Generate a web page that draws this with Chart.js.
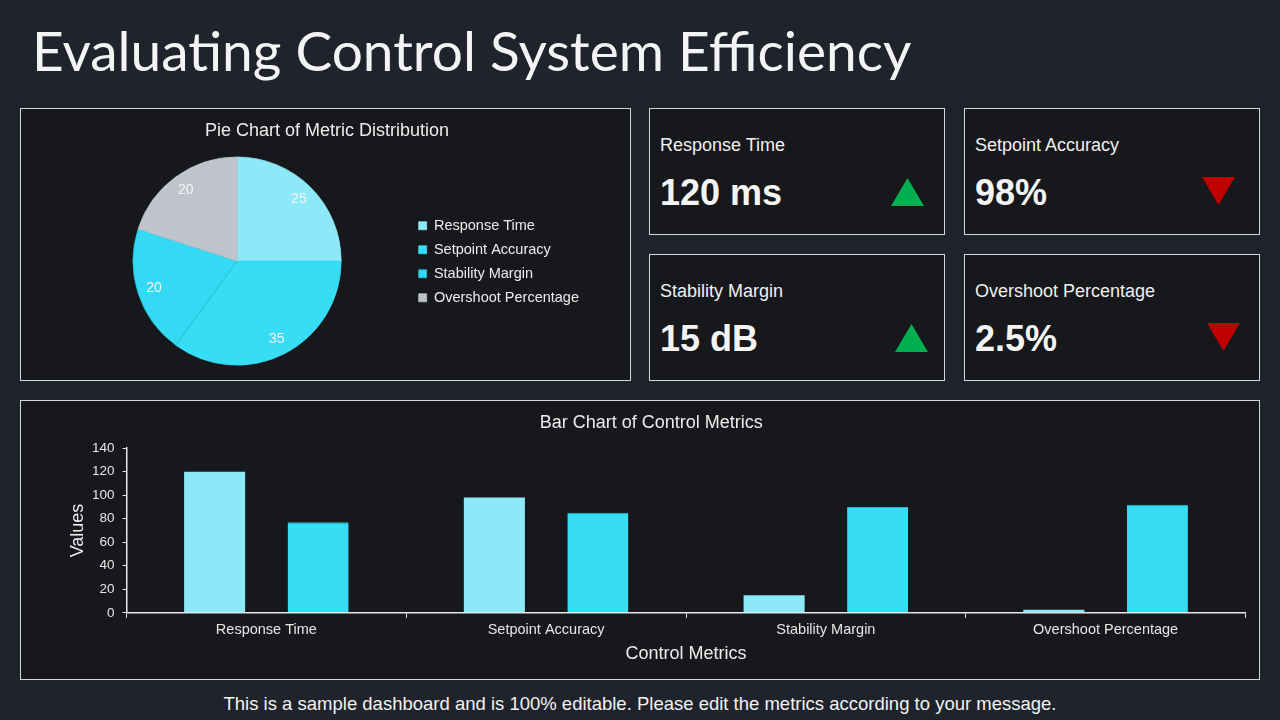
<!DOCTYPE html>
<html>
<head>
<meta charset="utf-8">
<title>Evaluating Control System Efficiency</title>
<script src="https://cdn.jsdelivr.net/npm/chart.js@4.4.1/dist/chart.umd.min.js"></script>
<style>
  html, body { margin: 0; padding: 0; }
  body { width: 1280px; height: 720px; background: #1f232b; position: relative; overflow: hidden;
         font-family: 'Liberation Sans', Arial, sans-serif; color: #f2f2f2; }
  .title { position: absolute; left: 32px; top: 17px; font-family: Lato, 'DejaVu Sans', sans-serif;
           font-size: 55px; color: #f4f4f4; white-space: nowrap; }
  .panel { position: absolute; box-sizing: border-box; border: 1.5px solid #d4d7da; background: #16181c; }
  .panel .wrap { position: absolute; left: 0; top: 0; right: 0; bottom: 0; }
  .kpi .lbl { position: absolute; left: 10px; top: 26px; font-size: 18px; color: #f0f0f0; white-space: nowrap; }
  .kpi .val { position: absolute; left: 10px; top: 63px; font-size: 36px; font-weight: bold; color: #f4f4f4; white-space: nowrap; }
  .tri { position: absolute; width: 33px; height: 28px; }
  .up { background: #00b050; clip-path: polygon(50% 0, 100% 100%, 0 100%); }
  .down { background: #c00000; clip-path: polygon(0 0, 100% 0, 50% 100%); }
  .footer { position: absolute; left: 0; width: 1280px; top: 693px; text-align: center; font-size: 18.5px; color: #f2f2f2; }
</style>
</head>
<body>
<div class="title">Evaluating Control System Efficiency</div>

<div class="panel" style="left:20px; top:108px; width:611px; height:273px;">
  <div class="wrap"><canvas id="pieChart"></canvas></div>
</div>

<div class="panel kpi" style="left:649px; top:108px; width:296px; height:127px;">
  <div class="lbl">Response Time</div><div class="val">120 ms</div>
  <div class="tri up" style="left:241px; top:69px;"></div>
</div>
<div class="panel kpi" style="left:964px; top:108px; width:296px; height:127px;">
  <div class="lbl">Setpoint Accuracy</div><div class="val">98%</div>
  <div class="tri down" style="left:237px; top:68px;"></div>
</div>
<div class="panel kpi" style="left:649px; top:254px; width:296px; height:127px;">
  <div class="lbl">Stability Margin</div><div class="val">15 dB</div>
  <div class="tri up" style="left:245px; top:69px;"></div>
</div>
<div class="panel kpi" style="left:964px; top:254px; width:296px; height:127px;">
  <div class="lbl">Overshoot Percentage</div><div class="val">2.5%</div>
  <div class="tri down" style="left:242px; top:68px;"></div>
</div>

<div class="panel" style="left:20px; top:400px; width:1240px; height:280px;">
  <div class="wrap"><canvas id="barChart"></canvas></div>
</div>

<div class="footer">This is a sample dashboard and is 100% editable. Please edit the metrics according to your message.</div>

<script>
// data
const metrics = ['Response Time', 'Setpoint Accuracy', 'Stability Margin', 'Overshoot Percentage'];
const pieValues = [25, 35, 20, 20];
const currentValues = [120, 98, 15, 2.5];
const targetValues = [77, 85, 90, 92];
const yTicks = [0, 20, 40, 60, 80, 100, 120, 140];

const pieColors = ['#8de9f7', '#37dcf5', '#34d9f3', '#bfc3cc'];
const barColors = ['#8de9f7', '#37dcf5'];

Chart.defaults.font.family = "'Liberation Sans', Arial, sans-serif";
Chart.defaults.color = '#e6e6e6';
Chart.defaults.animation = false;

// numbers inside the pie slices
const sliceLabels = {
    id: 'sliceLabels',
    afterDatasetsDraw(chart) {
        const ctx = chart.ctx;
        const meta = chart.getDatasetMeta(0);
        ctx.save();
        ctx.fillStyle = '#f4f4f4';
        ctx.font = "14px 'Liberation Sans', Arial, sans-serif";
        ctx.textAlign = 'center';
        ctx.textBaseline = 'middle';
        meta.data.forEach((arc, i) => {
            const p = arc.getProps(['x', 'y', 'startAngle', 'endAngle', 'outerRadius'], true);
            const mid = (p.startAngle + p.endAngle) / 2;
            const r = p.outerRadius * 0.84;
            ctx.fillText(String(pieValues[i]), p.x + Math.cos(mid) * r, p.y + Math.sin(mid) * r);
        });
        ctx.restore();
    }
};

new Chart(document.getElementById('pieChart'), {
    type: 'pie',
    data: {
        labels: metrics,
        datasets: [{
            data: pieValues,
            backgroundColor: pieColors,
            borderColor: ['#8de9f7', '#37dcf5', '#24bcd6', '#bfc3cc'],
            borderWidth: 0.75
        }]
    },
    options: {
        responsive: true, maintainAspectRatio: false,
        layout: { padding: { left: 44, right: 41, top: 0, bottom: 14.5 } },
        plugins: {
            title: { display: true, text: 'Pie Chart of Metric Distribution', color: '#ececec',
                     font: { size: 18, weight: 'normal' }, padding: { top: 11, bottom: 15 } },
            legend: { position: 'right', align: 'center',
                      // blank legend title only pushes the item list down to the pie's middle
                      title: { display: true, text: ' ', font: { size: 10 }, padding: { top: 18.5, bottom: 18.5 } },
                      labels: { boxWidth: 8, boxHeight: 8, padding: 9.5, color: '#ececec', font: { size: 14.5 } } },
            tooltip: { enabled: false }
        }
    },
    plugins: [sliceLabels]
});

new Chart(document.getElementById('barChart'), {
    type: 'bar',
    data: {
        labels: metrics,
        datasets: [
            { label: 'Current', data: currentValues, backgroundColor: barColors[0] },
            { label: 'Target', data: targetValues, backgroundColor: barColors[1],
              borderColor: '#27b6cc', borderWidth: { top: 1 } }
        ]
    },
    options: {
        responsive: true, maintainAspectRatio: false,
        categoryPercentage: 0.74, barPercentage: 0.59,
        layout: { padding: { left: 36, right: 13.5, top: 0, bottom: 8 } },
        plugins: {
            title: { display: true, text: 'Bar Chart of Control Metrics', color: '#ececec',
                     font: { size: 18, weight: 'normal' }, padding: { top: 11.7, bottom: 13.9 } },
            legend: { display: false },
            tooltip: { enabled: false }
        },
        scales: {
            x: {
                grid: { drawOnChartArea: false, color: '#e8e8e8', tickLength: 5, lineWidth: 1 },
                border: { color: '#e8e8e8', width: 1.5 },
                ticks: { color: '#e6e6e6', font: { size: 14.5 }, padding: 3, maxRotation: 0 },
                title: { display: true, text: 'Control Metrics', color: '#ececec', font: { size: 18 }, padding: { top: 0, bottom: 5.7 } },
                afterFit(s) { s.height = 58.2; }
            },
            y: {
                min: yTicks[0], max: yTicks[yTicks.length - 1],
                afterBuildTicks(s) { s.ticks = yTicks.map(v => ({ value: v })); },
                grid: { drawOnChartArea: false, color: '#e8e8e8', tickLength: 4, lineWidth: 1 },
                border: { color: '#e8e8e8', width: 1.5 },
                ticks: { color: '#e6e6e6', font: { size: 13.5 }, padding: 8 },
                title: { display: true, text: 'Values', color: '#ececec', font: { size: 18 }, padding: { top: 10.2, bottom: 0 } },
                afterFit(s) { s.width = 69.5; }
            }
        }
    }
});
</script>
</body>
</html>
